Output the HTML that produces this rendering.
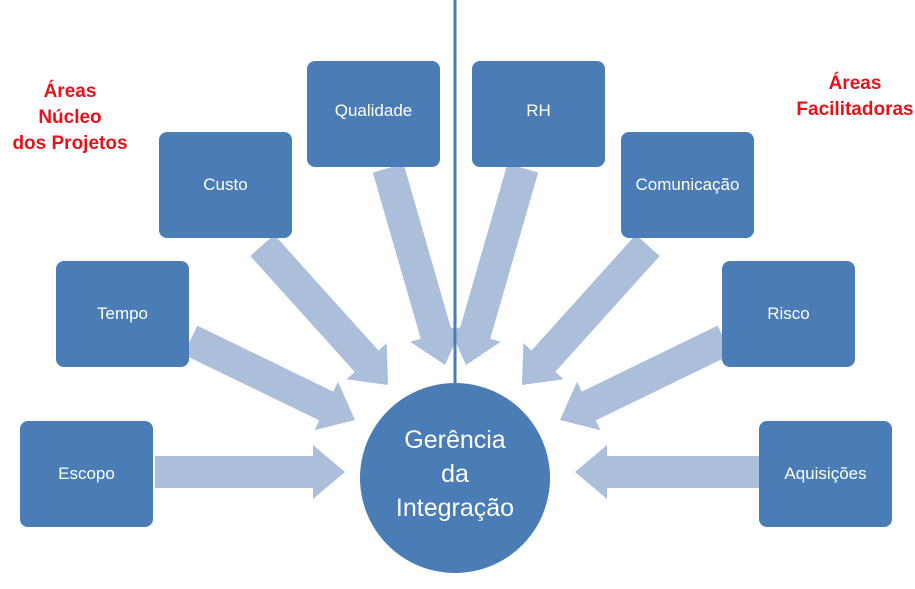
<!DOCTYPE html>
<html><head><meta charset="utf-8"><style>
body{margin:0;background:#fff;width:915px;height:589px;overflow:hidden;position:relative;font-family:"Liberation Sans",sans-serif}
.b{position:absolute;width:133px;height:106px;background:#4a7cb6;border-radius:8px;color:#fff;font-size:17px;display:flex;align-items:center;justify-content:center}
.r{position:absolute;color:#e8121b;font-weight:bold;font-size:19px;text-align:center;line-height:26px}
</style></head><body>
<svg width="915" height="589" style="position:absolute;left:0;top:0">
<defs><polygon id="a" points="0,0 -32,-27 -32,-16 -200,-16 -200,16 -32,16 -32,27" fill="#abbfdb"/></defs>
<g transform="translate(345,472) rotate(0)"><polygon points="0,0 -32,-27 -32,-16 -190,-16 -190,16 -32,16 -32,27" fill="#abbfdb"/></g>
<g transform="translate(355,420) rotate(25.9)"><polygon points="0,0 -32,-27 -32,-16 -183,-16 -183,16 -32,16 -32,27" fill="#abbfdb"/></g>
<g transform="translate(388,385) rotate(48)"><polygon points="0,0 -32,-27 -32,-16 -188,-16 -188,16 -32,16 -32,27" fill="#abbfdb"/></g>
<g transform="translate(445,365) rotate(73.9)"><polygon points="0,0 -32,-27 -32,-16 -205,-16 -205,16 -32,16 -32,27" fill="#abbfdb"/></g>
<g transform="translate(466,365) rotate(106.1)"><polygon points="0,0 -32,-27 -32,-16 -205,-16 -205,16 -32,16 -32,27" fill="#abbfdb"/></g>
<g transform="translate(522,385) rotate(132)"><polygon points="0,0 -32,-27 -32,-16 -188,-16 -188,16 -32,16 -32,27" fill="#abbfdb"/></g>
<g transform="translate(560,420) rotate(154.1)"><polygon points="0,0 -32,-27 -32,-16 -183,-16 -183,16 -32,16 -32,27" fill="#abbfdb"/></g>
<g transform="translate(575,472) rotate(180)"><polygon points="0,0 -32,-27 -32,-16 -190,-16 -190,16 -32,16 -32,27" fill="#abbfdb"/></g>
<line x1="455" y1="0" x2="455" y2="385" stroke="#4a7cb6" stroke-width="3"/>
<circle cx="455" cy="478" r="95" fill="#4a7cb6"/>
<text x="455" y="448" fill="#fff" font-size="25" text-anchor="middle" font-family="Liberation Sans, sans-serif">Gerência</text>
<text x="455" y="482" fill="#fff" font-size="25" text-anchor="middle" font-family="Liberation Sans, sans-serif">da</text>
<text x="455" y="516" fill="#fff" font-size="25" text-anchor="middle" font-family="Liberation Sans, sans-serif">Integração</text>
</svg>
<div class="b" style="left:307px;top:61px;align-items:flex-start;padding-top:0;height:106px"><span style="margin-top:40px">Qualidade</span></div>
<div class="b" style="left:159px;top:132px">Custo</div>
<div class="b" style="left:56px;top:261px">Tempo</div>
<div class="b" style="left:20px;top:421px">Escopo</div>
<div class="b" style="left:472px;top:61px;align-items:flex-start"><span style="margin-top:40px">RH</span></div>
<div class="b" style="left:621px;top:132px">Comunicação</div>
<div class="b" style="left:722px;top:261px">Risco</div>
<div class="b" style="left:759px;top:421px">Aquisições</div>
<div class="r" style="left:0;top:79px;width:140px">Áreas<br>Núcleo<br>dos Projetos</div>
<div class="r" style="left:780px;top:71px;width:150px">Áreas<br>Facilitadoras</div>
</body></html>
